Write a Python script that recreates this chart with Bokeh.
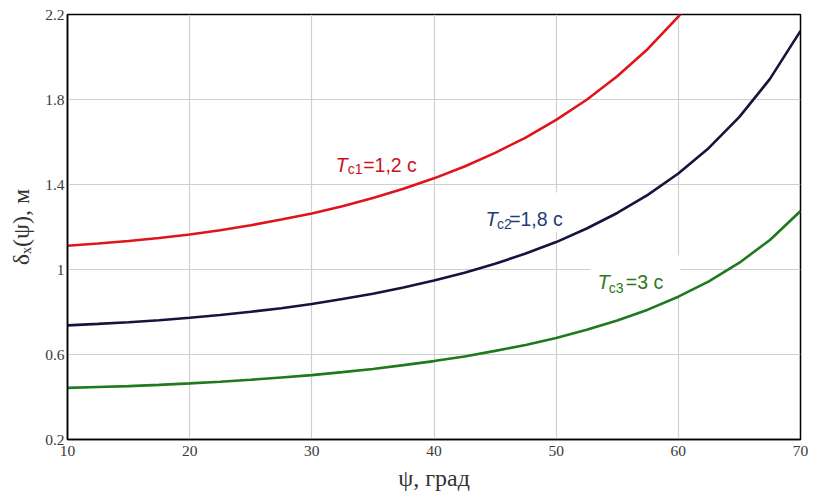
from bokeh.plotting import figure
from bokeh.models import FixedTicker, Label, Range1d
from bokeh.embed import file_html
from bokeh.resources import INLINE

# Angles (deg)
psi = [10, 12.5, 15, 17.5, 20, 22.5, 25, 27.5, 30, 32.5, 35, 37.5, 40,
       42.5, 45, 47.5, 50, 52.5, 55, 57.5, 60, 62.5, 65, 67.5, 70]

# Tc1 = 1.2 s (red) - exits the top of the frame after ~60 deg
psi_red = psi[:22]
delta_red = [1.112, 1.122, 1.134, 1.148, 1.165, 1.185, 1.208, 1.235, 1.264,
             1.298, 1.337, 1.380, 1.429, 1.485, 1.549, 1.621, 1.704, 1.799,
             1.909, 2.038, 2.190, 2.371]

# Tc2 = 1.8 s (navy)
delta_blue = [0.737, 0.744, 0.752, 0.761, 0.773, 0.786, 0.801, 0.818, 0.838,
              0.861, 0.886, 0.915, 0.948, 0.985, 1.027, 1.075, 1.129, 1.193,
              1.266, 1.351, 1.452, 1.572, 1.718, 1.897, 2.123]

# Tc3 = 3 s (green)
delta_green = [0.443, 0.447, 0.451, 0.457, 0.464, 0.472, 0.481, 0.492, 0.503,
               0.517, 0.532, 0.550, 0.569, 0.591, 0.617, 0.645, 0.678, 0.716,
               0.760, 0.811, 0.872, 0.944, 1.032, 1.139, 1.275]

x_ticks = [10, 20, 30, 40, 50, 60, 70]
y_ticks = [0.2, 0.6, 1.0, 1.4, 1.8, 2.2]
y_tick_labels = ["0.2", "0.6", "1", "1.4", "1.8", "2.2"]

RED, BLUE, GREEN = "#e0141b", "#14143f", "#1f7a1f"
RED_T, BLUE_T, GREEN_T = "#c8141c", "#1f3d7a", "#2c7a14"

p = figure(width=813, height=501, output_backend="svg", toolbar_location=None,
           x_range=Range1d(10, 70), y_range=Range1d(0.2, 2.2),
           min_border_left=67, min_border_right=13, min_border_top=14,
           min_border_bottom=62)

p.background_fill_color = "white"
p.border_fill_color = "white"
p.outline_line_color = "black"
p.outline_line_width = 1.5

for ax in (p.xaxis[0], p.yaxis[0]):
    ax.major_tick_out = 0
    ax.major_tick_in = 0
    ax.minor_tick_out = 0
    ax.minor_tick_in = 0
    ax.axis_line_color = "black"
    ax.axis_line_width = 1.5
    ax.major_label_text_font = "Liberation Serif"
    ax.major_label_text_font_size = "15.5px"
    ax.major_label_text_color = "#3a3a3a"
    ax.axis_label_text_font = "Liberation Serif"
    ax.axis_label_text_font_size = "24px"
    ax.axis_label_text_font_style = "normal"
    ax.axis_label_text_color = "#333333"

p.xaxis.ticker = FixedTicker(ticks=x_ticks)
p.yaxis.ticker = FixedTicker(ticks=y_ticks)
p.yaxis.major_label_overrides = {t: l for t, l in zip(y_ticks, y_tick_labels)}
p.xaxis.major_label_standoff = 6
p.yaxis.major_label_standoff = 3
p.xaxis.axis_label = "ψ, град"
p.yaxis.axis_label = "δₓ(ψ), м"
p.xaxis.axis_label_standoff = 6
p.yaxis.axis_label_standoff = 8

p.xgrid.ticker = FixedTicker(ticks=x_ticks)
p.ygrid.ticker = FixedTicker(ticks=y_ticks)
p.grid.grid_line_color = "#cfcfcf"
p.grid.grid_line_width = 1.2

# white boxes behind the curve labels
p.quad(left=[31.36, 43.64, 52.8], right=[39.3, 51.0, 60.18],
       bottom=[1.43, 1.175, 0.87], top=[1.61, 1.362, 1.066],
       fill_color="white", line_color=None)

p.line(psi_red, delta_red, line_color=RED, line_width=2.6)
p.line(psi, delta_blue, line_color=BLUE, line_width=2.6)
p.line(psi, delta_green, line_color=GREEN, line_width=2.6)

def curve_label(xT, xs, xr, yb, ys, sub, rest, color):
    p.add_layout(Label(x=xT, y=yb, text="T", text_font="Liberation Sans",
                       text_font_style="italic", text_font_size="20px",
                       text_color=color, text_baseline="alphabetic"))
    p.add_layout(Label(x=xs, y=ys, text=sub, text_font="Liberation Sans",
                       text_font_size="14px", text_color=color,
                       text_baseline="alphabetic"))
    p.add_layout(Label(x=xr, y=yb, text=rest, text_font="Liberation Sans",
                       text_font_size="19.5px", text_color=color,
                       text_baseline="alphabetic"))

curve_label(31.94, 32.95, 34.2, 1.493, 1.472, "с1", "=1,2 с", RED_T)
curve_label(44.21, 45.15, 46.15, 1.240, 1.213, "с2", "=1,8 с", BLUE_T)
curve_label(53.38, 54.3, 55.7, 0.939, 0.912, "с3", "=3 с", GREEN_T)

open("out.html", "w").write(file_html(p, INLINE))
